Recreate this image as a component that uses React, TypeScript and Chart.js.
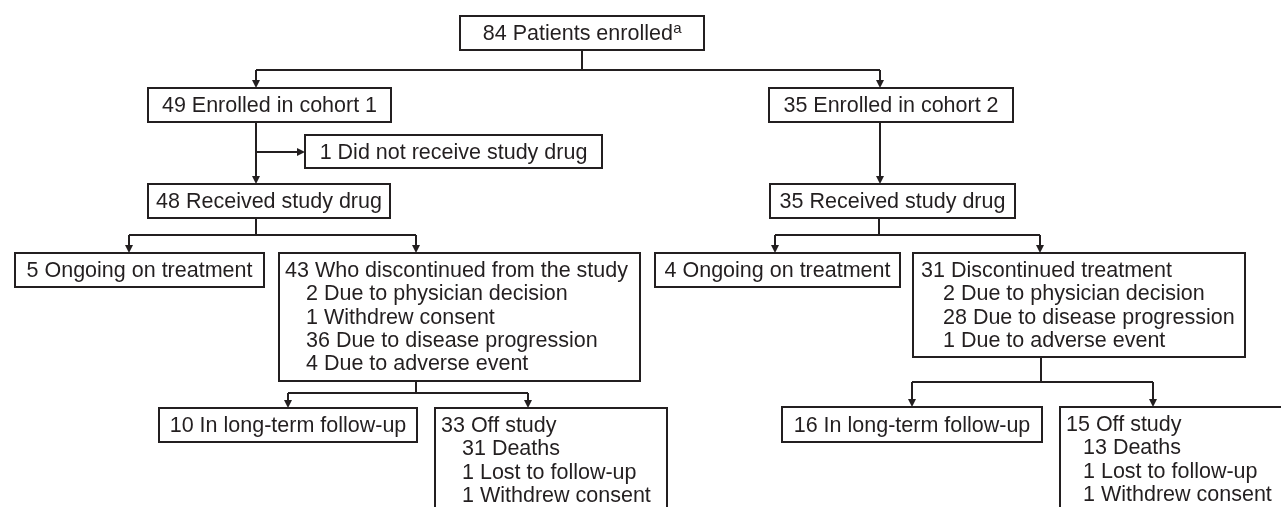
import React, { useEffect, useRef } from "react";
import { Chart, registerables } from "chart.js";

Chart.register(...registerables);

// ---- Data (texts of the flow diagram) ----
const enrolledLabel = "84 Patients enrolled";
const enrolledNote = "a";
const cohortLabels = ["49 Enrolled in cohort 1", "35 Enrolled in cohort 2"];
const notTreatedLabel = "1 Did not receive study drug";
const receivedLabels = ["48 Received study drug", "35 Received study drug"];
const ongoingLabels = ["5 Ongoing on treatment", "4 Ongoing on treatment"];
const discontinuedHeads = ["43 Who discontinued from the study", "31 Discontinued treatment"];
const discontinuedReasonsCohort1 = [
  "2 Due to physician decision",
  "1 Withdrew consent",
  "36 Due to disease progression",
  "4 Due to adverse event",
];
const discontinuedReasonsCohort2 = [
  "2 Due to physician decision",
  "28 Due to disease progression",
  "1 Due to adverse event",
];
const followUpLabels = ["10 In long-term follow-up", "16 In long-term follow-up"];
const offStudyHeads = ["33 Off study", "15 Off study"];
const offStudyReasonsCohort1 = ["31 Deaths", "1 Lost to follow-up", "1 Withdrew consent"];
const offStudyReasonsCohort2 = ["13 Deaths", "1 Lost to follow-up", "1 Withdrew consent"];

// ---- Layout (diagram coordinates, mapped through the chart scales) ----
type Box = {
  x0: number; y0: number; x1: number; y1: number;
  head: string; sub?: string[]; note?: string;
  align: "center" | "left"; pad?: number; indent?: number;
};

const boxes: Box[] = [
  { x0: 460, y0: 16, x1: 704, y1: 50, head: enrolledLabel, note: enrolledNote, align: "center" },
  { x0: 148, y0: 88, x1: 391, y1: 122, head: cohortLabels[0], align: "center" },
  { x0: 769, y0: 88, x1: 1013, y1: 122, head: cohortLabels[1], align: "center" },
  { x0: 305, y0: 135, x1: 602, y1: 168, head: notTreatedLabel, align: "center" },
  { x0: 148, y0: 184, x1: 390, y1: 218, head: receivedLabels[0], align: "center" },
  { x0: 770, y0: 184, x1: 1015, y1: 218, head: receivedLabels[1], align: "center" },
  { x0: 15, y0: 253, x1: 264, y1: 287, head: ongoingLabels[0], align: "center" },
  { x0: 279, y0: 253, x1: 640, y1: 381, head: discontinuedHeads[0], sub: discontinuedReasonsCohort1, align: "left", pad: 6, indent: 21 },
  { x0: 655, y0: 253, x1: 900, y1: 287, head: ongoingLabels[1], align: "center" },
  { x0: 913, y0: 253, x1: 1245, y1: 357, head: discontinuedHeads[1], sub: discontinuedReasonsCohort2, align: "left", pad: 8, indent: 22 },
  { x0: 159, y0: 408, x1: 417, y1: 442, head: followUpLabels[0], align: "center" },
  { x0: 435, y0: 408, x1: 667, y1: 530, head: offStudyHeads[0], sub: offStudyReasonsCohort1, align: "left", pad: 6, indent: 21 },
  { x0: 782, y0: 407, x1: 1042, y1: 442, head: followUpLabels[1], align: "center" },
  { x0: 1060, y0: 407, x1: 1300, y1: 530, head: offStudyHeads[1], sub: offStudyReasonsCohort2, align: "left", pad: 6, indent: 17 },
];

type Link = { pts: [number, number][]; arrow: boolean };
const links: Link[] = [
  { pts: [[582, 50], [582, 70]], arrow: false },
  { pts: [[256, 70], [880, 70]], arrow: false },
  { pts: [[256, 70], [256, 88]], arrow: true },
  { pts: [[880, 70], [880, 88]], arrow: true },
  { pts: [[256, 122], [256, 184]], arrow: true },
  { pts: [[256, 152], [305, 152]], arrow: true },
  { pts: [[880, 122], [880, 184]], arrow: true },
  { pts: [[256, 218], [256, 235]], arrow: false },
  { pts: [[129, 235], [416, 235]], arrow: false },
  { pts: [[129, 235], [129, 253]], arrow: true },
  { pts: [[416, 235], [416, 253]], arrow: true },
  { pts: [[879, 218], [879, 235]], arrow: false },
  { pts: [[775, 235], [1040, 235]], arrow: false },
  { pts: [[775, 235], [775, 253]], arrow: true },
  { pts: [[1040, 235], [1040, 253]], arrow: true },
  { pts: [[416, 381], [416, 393]], arrow: false },
  { pts: [[288, 393], [528, 393]], arrow: false },
  { pts: [[288, 393], [288, 408]], arrow: true },
  { pts: [[528, 393], [528, 408]], arrow: true },
  { pts: [[1041, 357], [1041, 382]], arrow: false },
  { pts: [[912, 382], [1153, 382]], arrow: false },
  { pts: [[912, 382], [912, 407]], arrow: true },
  { pts: [[1153, 382], [1153, 407]], arrow: true },
];

const INK = "#231f20";
const FONT = "'Liberation Sans', Arial, Helvetica, sans-serif";
const FONT_SIZE = 21.5;
const LINE_GAP = 23.4;
const ARROW_LEN = 8;
const ARROW_HALF = 4;
const W = 1281;
const H = 507;

function shaft(l: Link): { x: number; y: number }[] {
  const pts = l.pts.map(([x, y]) => ({ x, y }));
  if (l.arrow && pts.length >= 2) {
    const a = pts[pts.length - 2];
    const b = pts[pts.length - 1];
    const dx = b.x - a.x, dy = b.y - a.y;
    const len = Math.hypot(dx, dy) || 1;
    pts[pts.length - 1] = { x: b.x - (dx / len) * (ARROW_LEN - 1), y: b.y - (dy / len) * (ARROW_LEN - 1) };
  }
  return pts;
}

const flowPlugin = {
  id: "flowText",
  afterDatasetsDraw(chart: any) {
    const ctx: CanvasRenderingContext2D = chart.ctx;
    const xs = chart.scales.x;
    const ys = chart.scales.y;
    const px = (v: number) => xs.getPixelForValue(v);
    const py = (v: number) => ys.getPixelForValue(v);
    ctx.save();
    // arrowheads
    ctx.fillStyle = INK;
    links.forEach((l) => {
      if (!l.arrow) return;
      const a = l.pts[l.pts.length - 2];
      const b = l.pts[l.pts.length - 1];
      const ax = px(a[0]), ay = py(a[1]), bx = px(b[0]), by = py(b[1]);
      const dx = bx - ax, dy = by - ay;
      const len = Math.hypot(dx, dy) || 1;
      const ux = dx / len, uy = dy / len;
      const nx = -uy, ny = ux;
      const baseX = bx - ux * ARROW_LEN, baseY = by - uy * ARROW_LEN;
      ctx.beginPath();
      ctx.moveTo(bx, by);
      ctx.lineTo(baseX + nx * ARROW_HALF, baseY + ny * ARROW_HALF);
      ctx.lineTo(baseX - nx * ARROW_HALF, baseY - ny * ARROW_HALF);
      ctx.closePath();
      ctx.fill();
    });
    // texts
    ctx.fillStyle = INK;
    ctx.textBaseline = "alphabetic";
    boxes.forEach((b) => {
      const left = px(b.x0), right = px(b.x1), top = py(b.y0), bottom = py(b.y1);
      ctx.font = `${FONT_SIZE}px ${FONT}`;
      if (b.align === "center") {
        const cx = (left + right) / 2;
        const base = (top + bottom) / 2 + 7.4;
        if (b.note) {
          const mw = ctx.measureText(b.head).width;
          ctx.font = `15px ${FONT}`;
          const nw = ctx.measureText(b.note).width;
          const start = cx - (mw + nw) / 2;
          ctx.textAlign = "left";
          ctx.font = `${FONT_SIZE}px ${FONT}`;
          ctx.fillText(b.head, start, base);
          ctx.font = `15px ${FONT}`;
          ctx.fillText(b.note, start + mw + 0.5, base - 7);
        } else {
          ctx.textAlign = "center";
          ctx.fillText(b.head, cx, base);
        }
      } else {
        ctx.textAlign = "left";
        const x = left + (b.pad || 6);
        let base = top + 23.7;
        ctx.fillText(b.head, x, base);
        (b.sub || []).forEach((s) => {
          base += LINE_GAP;
          ctx.fillText(s, x + (b.indent || 20), base);
        });
      }
    });
    ctx.restore();
  },
};

export default function App() {
  const ref = useRef<HTMLCanvasElement | null>(null);
  useEffect(() => {
    if (!ref.current) return;
    const datasets: any[] = [];
    boxes.forEach((b) => {
      datasets.push({
        data: [
          { x: b.x0, y: b.y0 },
          { x: b.x1, y: b.y0 },
          { x: b.x1, y: b.y1 },
          { x: b.x0, y: b.y1 },
          { x: b.x0, y: b.y0 },
        ],
        showLine: true,
        borderColor: INK,
        borderWidth: 2,
        borderCapStyle: "square",
        borderJoinStyle: "miter",
        pointRadius: 0,
        fill: false,
        tension: 0,
        clip: false,
      });
    });
    links.forEach((l) => {
      datasets.push({
        data: shaft(l),
        showLine: true,
        borderColor: INK,
        borderWidth: 2,
        borderCapStyle: "butt",
        pointRadius: 0,
        fill: false,
        tension: 0,
        clip: false,
      });
    });
    const chart = new Chart(ref.current, {
      type: "scatter",
      data: { datasets },
      options: {
        animation: false,
        responsive: false,
        maintainAspectRatio: false,
        devicePixelRatio: 1,
        events: [],
        layout: { padding: 0 },
        plugins: {
          legend: { display: false },
          tooltip: { enabled: false },
          title: { display: false },
        },
        scales: {
          x: { type: "linear", min: 0, max: W, display: false },
          y: { type: "linear", min: 0, max: H, reverse: true, display: false },
        },
      },
      plugins: [flowPlugin],
    } as any);
    return () => chart.destroy();
  }, []);
  return (
    <div style={{ position: "fixed", left: 0, top: 0, width: W, height: H, background: "#fff" }}>
      <canvas ref={ref} width={W} height={H} style={{ width: W, height: H, display: "block" }} />
    </div>
  );
}
